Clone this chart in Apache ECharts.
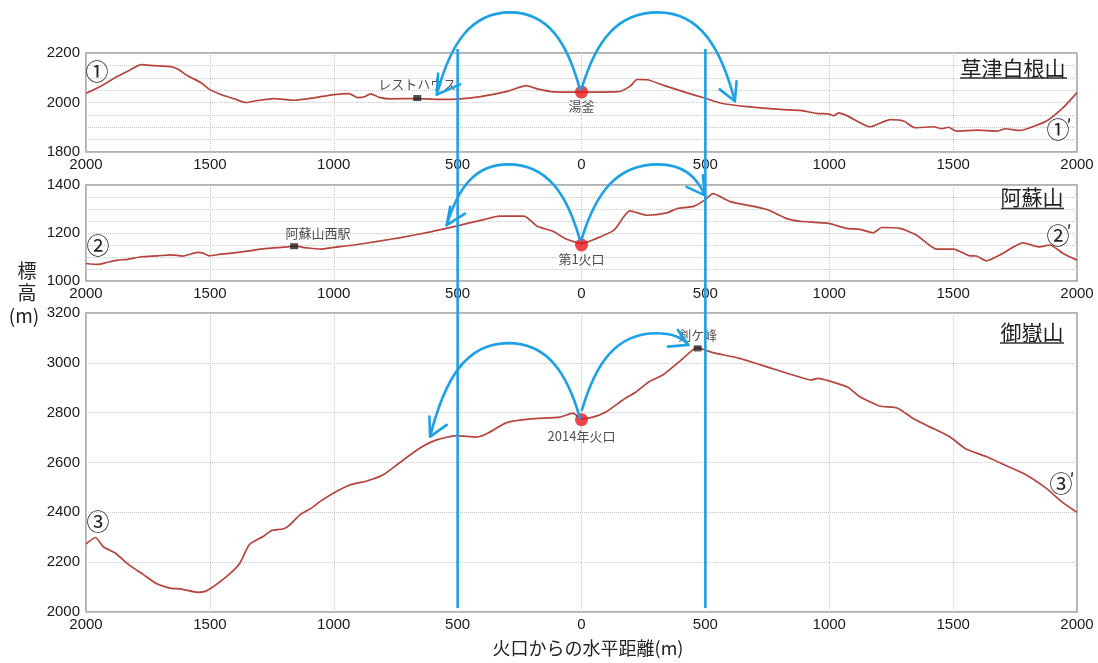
<!DOCTYPE html>
<html><head><meta charset="utf-8">
<script src="https://cdn.jsdelivr.net/npm/echarts@6/dist/echarts.min.js"></script>
<style>html,body{margin:0;padding:0;background:#fff}#c{width:1098px;height:663px}</style>
</head><body><div id="c"></div>
<script>
const FONT = "'Liberation Sans', 'Noto Sans CJK JP', sans-serif";
const JP = "'Noto Sans CJK JP', sans-serif";
const LINE = '#b5443f', BLUE = '#1da1e6', RED = '#e8161c';

// ---- data: horizontal distance from crater (m, negative = left side) and elevation (m)
const kusatsuX = [-2000,-1940,-1872,-1819,-1778,-1725,-1657,-1630,-1590,-1536,-1503,-1456,-1402,-1355,-1308,-1241,-1160,-1079,-999,-938,-905,-879,-851,-817,-770,-663,-582,-501,-407,-300,-223,-179,-112,0,150,197,224,265,332,426,493,560,668,802,883,950,997,1018,1038,1071,1165,1246,1300,1347,1421,1454,1481,1515,1595,1676,1710,1770,1810,1877,1944,2000];
const kusatsuH = [2037,2066,2106,2133,2153,2149,2145,2135,2108,2080,2054,2032,2015,2000,2008,2016,2009,2019,2032,2036,2020,2022,2035,2021,2015,2016,2013,2014,2024,2045,2068,2055,2043,2042,2044,2066,2093,2092,2069,2039,2019,1998,1983,1972,1968,1956,1954,1947,1958,1947,1902,1931,1925,1898,1902,1894,1900,1884,1888,1884,1894,1887,1898,1925,1979,2040];

const asoX = [-2000,-1953,-1913,-1872,-1832,-1778,-1711,-1657,-1610,-1550,-1530,-1503,-1456,-1402,-1321,-1267,-1200,-1160,-1107,-1053,-999,-918,-811,-730,-609,-501,-394,-333,-232,-179,-118,-57,0,50,131,195,265,345,386,453,500,530,600,748,829,883,997,1071,1124,1178,1212,1286,1353,1434,1501,1567,1594,1634,1688,1782,1849,1890,1944,2000];
const asoH = [1073,1069,1078,1087,1090,1101,1105,1109,1104,1119,1117,1105,1112,1117,1129,1136,1141,1145,1138,1133,1140,1150,1167,1181,1205,1230,1256,1270,1270,1228,1208,1173,1157,1173,1212,1292,1274,1284,1302,1311,1339,1364,1331,1298,1260,1249,1240,1219,1215,1201,1223,1219,1191,1133,1133,1105,1104,1084,1108,1159,1142,1150,1115,1087];

const ontakeX = [-2000,-1962,-1929,-1882,-1828,-1768,-1714,-1661,-1614,-1547,-1513,-1432,-1379,-1341,-1285,-1251,-1204,-1177,-1137,-1090,-1056,-1002,-935,-867,-800,-733,-652,-585,-504,-423,-383,-302,-206,-87,-34,0,46,100,167,221,274,328,395,449,469,503,530,637,745,839,866,927,954,987,1075,1122,1202,1276,1337,1404,1485,1552,1633,1714,1794,1875,1942,2000];
const ontakeH = [2273,2299,2261,2237,2190,2150,2113,2096,2092,2079,2085,2143,2196,2270,2303,2327,2333,2350,2390,2417,2443,2477,2510,2526,2551,2600,2658,2691,2708,2702,2715,2760,2775,2782,2798,2775,2782,2804,2851,2884,2925,2951,3005,3052,3060,3050,3041,3018,2985,2955,2947,2931,2938,2931,2902,2865,2827,2818,2778,2744,2704,2654,2624,2587,2551,2497,2440,2400];

const craterNames = ['湯釜', '第1火口', '2014年火口'];
const craterX = [0, 0, 0];
const craterH = [2042, 1150, 2772];
const landmarkNames = ['レストハウス', '阿蘇山西駅', '剣ケ峰'];
const landmarkX = [-663, -1160, 469];
const landmarkH = [2018, 1145, 3058];

const panelNames = ['草津白根山', '阿蘇山', '御嶽山'];
const yMin = [1800, 1000, 2000];
const yMax = [2200, 1400, 3200];
const yGridStep = [50, 50, 200];
const yLabelStep = [200, 200, 200];
const xTickStep = 500;

// blue annotation arcs: start, peak, arrow tip, two arrowhead ends (distance, elevation)
const arcs = [
  [ {s:[-6,2052], p:[-288,2364], t:[-584,2032], a:[-490,2073], b:[-579,2117]},
    {s:[2,2061],  p:[308,2364],  t:[619,2005],  a:[558,2053],  b:[626,2086]} ],
  [ {s:[-6,1170], p:[-296,1486], t:[-544,1233], a:[-470,1281], b:[-530,1309]},
    {s:[2,1179],  p:[308,1486],  t:[498,1357],  a:[424,1392],  b:[490,1440]} ],
  [ {s:[-6,2778], p:[-296,3079], t:[-611,2704], a:[-544,2751], b:[-614,2784]},
    {s:[2,2811],  p:[303,3119],  t:[431,3072],  a:[349,3065],  b:[389,3132]} ]
];
const guideX = [-500, 500];

const profiles = [[kusatsuX, kusatsuH], [asoX, asoH], [ontakeX, ontakeH]];

const grids = [
  {left: 86, right: 21, top: 53, height: 99},
  {left: 86, right: 21, top: 185, height: 96},
  {left: 86, right: 21, top: 313, height: 299},
  {left: 86, right: 21, top: 49, height: 559}
].map(g => Object.assign({show: g.height < 500, borderColor: '#999', borderWidth: 1.5, backgroundColor: 'transparent'}, g));

const xAxes = [0,1,2].map(i => ({
  gridIndex: i, type: 'value', min: -2000, max: 2000, interval: xTickStep,
  axisLine: {show: false}, axisTick: {show: false},
  axisLabel: {fontSize: 15, color: '#1a1a1a', fontFamily: FONT, margin: 5, showMinLabel: true, showMaxLabel: true,
    formatter: v => String(Math.abs(v))},
  splitLine: {show: true, lineStyle: {color: '#c8c8c8', type: 'dotted', width: 1}}
}));
xAxes.push({gridIndex: 3, type: 'value', min: -2000, max: 2000, show: false});

const yAxes = [0,1,2].map(i => ({
  gridIndex: i, type: 'value', min: yMin[i], max: yMax[i], interval: yGridStep[i],
  axisLine: {show: false}, axisTick: {show: false},
  axisLabel: {fontSize: 15, color: '#1a1a1a', fontFamily: FONT, margin: 6,
    formatter: v => (v % yLabelStep[i] === 0 ? String(v) : '')},
  splitLine: {show: true, lineStyle: {color: '#c8c8c8', type: 'dotted', width: 1}}
}));
yAxes.push({gridIndex: 3, type: 'value', min: 0, max: 1, show: false});

const series = [];
profiles.forEach(([xs, hs], i) => {
  series.push({
    type: 'line', xAxisIndex: i, yAxisIndex: i, data: xs.map((x, k) => [x, hs[k]]),
    showSymbol: false, smooth: 0.2, lineStyle: {color: LINE, width: 1.7}, z: 3, silent: true
  });
  series.push({
    type: 'scatter', xAxisIndex: i, yAxisIndex: i, data: [[landmarkX[i], landmarkH[i]]],
    symbol: 'rect', symbolSize: [8, 6], itemStyle: {color: '#222'}, z: 5, silent: true,
    label: {show: true, position: 'top', distance: 4, offset: i === 1 ? [24, 0] : [0, 0],
      formatter: landmarkNames[i], fontSize: 13, color: '#222', fontFamily: JP}
  });
  series.push({
    type: 'scatter', xAxisIndex: i, yAxisIndex: i, data: [[craterX[i], craterH[i]]],
    symbol: 'circle', symbolSize: 13, itemStyle: {color: RED}, z: 6, silent: true,
    label: {show: true, position: 'bottom', distance: i === 2 ? 3 : 1,
      formatter: craterNames[i], fontSize: 13, color: '#222', fontFamily: JP}
  });
  series.push({
    type: 'custom', xAxisIndex: i, yAxisIndex: i, clip: false, z: 10, silent: true,
    data: arcs[i].map(a => [a.s[0], a.s[1]]),
    renderItem: (params, api) => {
      const a = arcs[i][params.dataIndex];
      const p0 = api.coord(a.s), pp = api.coord(a.p), p3 = api.coord(a.t);
      const ha = api.coord(a.a), hb = api.coord(a.b);
      const st = {stroke: BLUE, lineWidth: 2.6, fill: null, lineCap: 'round', lineJoin: 'round'};
      return {type: 'group', children: [
        {type: 'bezierCurve', shape: {
          x1: p0[0], y1: p0[1],
          cpx1: p0[0] + 0.18 * (pp[0] - p0[0]), cpy1: p0[1] + 0.6 * (pp[1] - p0[1]),
          cpx2: pp[0] - 0.55 * (pp[0] - p0[0]), cpy2: pp[1],
          x2: pp[0], y2: pp[1]}, style: st},
        {type: 'bezierCurve', shape: {
          x1: pp[0], y1: pp[1],
          cpx1: pp[0] + 0.55 * (p3[0] - pp[0]), cpy1: pp[1],
          cpx2: p3[0] - 0.18 * (p3[0] - pp[0]), cpy2: p3[1] + 0.6 * (pp[1] - p3[1]),
          x2: p3[0], y2: p3[1]}, style: st},
        {type: 'polyline', shape: {points: [ha, p3, hb]}, style: st}
      ]};
    }
  });
});
series.push({
  type: 'custom', xAxisIndex: 3, yAxisIndex: 3, clip: false, z: 9, silent: true,
  data: guideX.map(x => [x, 0]),
  renderItem: (params, api) => {
    const a = api.coord([guideX[params.dataIndex], 0]);
    const b = api.coord([guideX[params.dataIndex], 1]);
    return {type: 'line', shape: {x1: a[0], y1: a[1], x2: b[0], y2: b[1]},
      style: {stroke: BLUE, lineWidth: 2.6}};
  }
});

function txt(text, x, y, size, align) {
  return {type: 'text', x: x, y: y, z: 20, silent: true, style: {text: text, fontSize: size, fontFamily: JP, fill: '#222',
    align: align || 'center', verticalAlign: 'middle', textAlign: align || 'center', textVerticalAlign: 'middle'}};
}
function uline(x1, x2, y) {
  return {type: 'line', z: 20, silent: true, shape: {x1: x1, y1: y, x2: x2, y2: y}, style: {stroke: '#333', lineWidth: 1.3}};
}
const graphic = [
  txt(panelNames[0], 1013, 68, 21), uline(960, 1067, 78),
  txt(panelNames[1], 1032, 197, 21), uline(1001, 1064, 208.5),
  txt(panelNames[2], 1032, 332, 21), uline(1000, 1064, 343),
  txt('①', 97, 71.5, 23), txt('①', 1058, 129, 23), txt('′', 1069, 125, 18),
  txt('②', 98, 245, 23), txt('②', 1058, 235, 23), txt('′', 1069, 231, 18),
  txt('③', 98, 521, 23), txt('③', 1061, 483, 23), txt('′', 1072, 479, 18),
  txt('標', 27, 271, 19), txt('高', 27, 293, 19), txt('(m)', 24, 316, 19),
  txt('火口からの水平距離(m)', 588, 648, 18)
];

const chart = echarts.init(document.getElementById('c'), null, {renderer: 'canvas'});
chart.setOption({
  animation: false, backgroundColor: '#fff',
  grid: grids, xAxis: xAxes, yAxis: yAxes, series: series, graphic: graphic
});
</script></body></html>
